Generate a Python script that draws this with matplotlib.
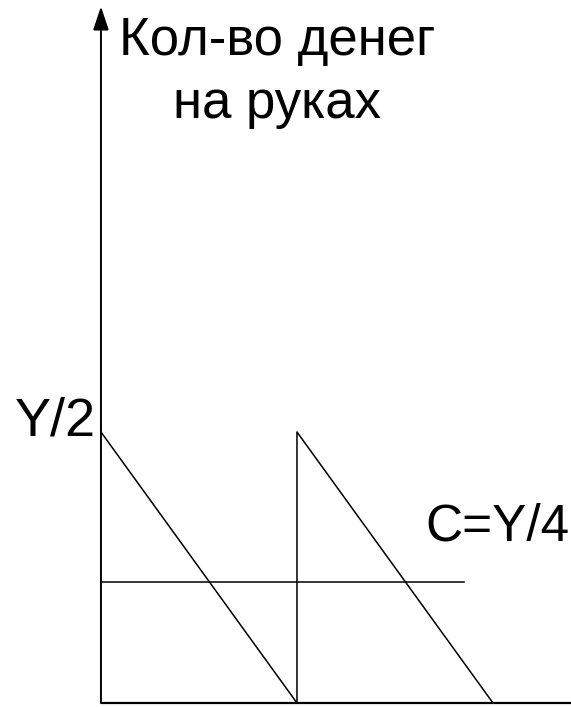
"""Sawtooth diagram of money holdings (Baumol-Tobin style)."""

import matplotlib
matplotlib.use('Agg')
import matplotlib.pyplot as plt

# Money on hand over time, period of one payment = 1, income Y = 1.
saw_time = [0.0, 1.0, 1.0, 2.0]
saw_money = [0.5, 0.0, 0.5, 0.0]

# Average holdings line, labelled C=Y/4.
avg_time = [0.0, 1.85]
avg_money = [0.223, 0.223]

x_axis_end = 2.40
y_axis_top = 1.285

title_lines = ['Кол-во денег', 'на руках']
top_label = 'Y/2'
avg_label = 'C=Y/4'


def main():
    """Draw the figure."""
    plt.rcParams['font.family'] = ['Liberation Sans', 'DejaVu Sans']

    fig = plt.figure(figsize=(5.71, 7.07), dpi=100)
    ax = fig.add_axes([0, 0, 1, 1])
    ax.set_xlim(-0.515, 2.398)
    ax.set_ylim(-0.0074, 1.297)
    ax.axis('off')

    # Axes.
    ax.plot([0, x_axis_end], [0, 0], color='black', lw=1.6,
            solid_capstyle='butt')
    ax.annotate(
        '', xy=(0, y_axis_top), xytext=(0, 0),
        arrowprops=dict(arrowstyle='-|>,head_length=0.9,head_width=0.3',
                        color='black', lw=1.4,
                        mutation_scale=16, shrinkA=0, shrinkB=0)
    )

    # Curves.
    ax.plot(saw_time, saw_money, color='black', lw=1.1)
    ax.plot(avg_time, avg_money, color='black', lw=1.1)

    # Labels.
    ax.text(0.898, 1.196, title_lines[0], ha='center', va='baseline',
            fontsize=38)
    ax.text(0.898, 1.079, title_lines[1], ha='center', va='baseline',
            fontsize=38)
    ax.text(-0.026, 0.494, top_label, ha='right', va='baseline',
            fontsize=39)
    ax.text(1.655, 0.299, avg_label, ha='left', va='baseline',
            fontsize=37)

    fig.savefig('out.png', dpi=100)


if __name__ == '__main__':
    main()
